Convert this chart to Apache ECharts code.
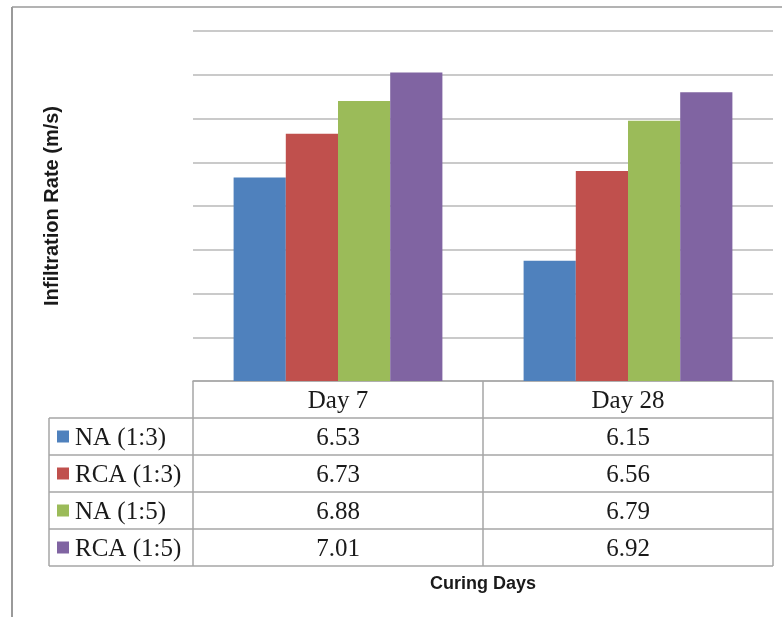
<!DOCTYPE html>
<html>
<head>
<meta charset="utf-8">
<script src="https://cdn.jsdelivr.net/npm/echarts@6/dist/echarts.min.js"></script>
<style>
  html, body { margin: 0; padding: 0; background: #ffffff; }
  #main { width: 782px; height: 617px; }
</style>
</head>
<body>
<div id="main"></div>
<script>
// Curing day groups shown along the x axis
const categories = ['Day 7', 'Day 28'];

// Mix series names
const seriesNames = ['NA (1:3)', 'RCA (1:3)', 'NA (1:5)', 'RCA (1:5)'];

// Infiltration rate per mix, Day 7 then Day 28
const naMix13 = [6.53, 6.15];
const rcaMix13 = [6.73, 6.56];
const naMix15 = [6.88, 6.79];
const rcaMix15 = [7.01, 6.92];

const seriesValues = [naMix13, rcaMix13, naMix15, rcaMix15];
const seriesColors = ['#4f81bd', '#c0504d', '#9bbb59', '#8064a2'];

const yTitle = 'Infiltration Rate (m/s)';
const xTitle = 'Curing Days';

// Layout of the plot and the data table under it
const plotLeft = 193, plotRight = 773, plotTop = 31, plotBottom = 381;
const tableLeft = 49;
const rowH = 37;
const textShift = 2;
const lineColor = '#a6a6a6';
const serifFont = '"Liberation Serif", "Times New Roman", serif';
const sansFont = '"Liberation Sans", Arial, sans-serif';
const tableFont = '25px ' + serifFont;

const chart = echarts.init(document.getElementById('main'), null, { renderer: 'canvas' });

chart.setOption({
  animation: false,
  backgroundColor: '#ffffff',
  grid: {
    left: plotLeft, right: 782 - plotRight, top: plotTop, bottom: 617 - plotBottom,
    containLabel: false
  },
  xAxis: {
    type: 'category',
    data: categories,
    axisLine: { show: true, lineStyle: { color: lineColor, width: 1.5 } },
    axisTick: { show: false },
    axisLabel: { show: false }
  },
  yAxis: {
    type: 'value',
    min: 5.6, max: 7.2, interval: 0.2,
    axisLine: { show: false },
    axisTick: { show: false },
    axisLabel: { show: false },
    splitLine: { show: true, lineStyle: { color: '#b8b8b8', width: 1.5 } },
    name: yTitle,
    nameLocation: 'middle',
    nameRotate: 90,
    nameGap: plotLeft - 62,
    nameTextStyle: { fontFamily: sansFont, fontWeight: 'bold', fontSize: 20, color: '#1a1a1a' }
  },
  series: seriesNames.map((name, i) => ({
    name: name,
    type: 'bar',
    data: seriesValues[i],
    barGap: '0%',
    barCategoryGap: '28%',
    itemStyle: { color: seriesColors[i] }
  }))
});

// Data table drawn beneath the plot, aligned to the category positions
function buildTable() {
  const g = [];
  const colX = categories.map(c => chart.convertToPixel({ xAxisIndex: 0 }, c));
  const headerTop = plotBottom;
  const bodyTop = headerTop + rowH;
  const bodyBottom = bodyTop + rowH * seriesNames.length;
  const midDivider = (colX[0] + colX[1]) / 2;

  const line = (x1, y1, x2, y2) => ({
    type: 'line', silent: true,
    shape: { x1, y1, x2, y2 },
    style: { stroke: lineColor, lineWidth: 1.5 }
  });

  // horizontal rules
  g.push(line(tableLeft, bodyTop, plotRight, bodyTop));
  for (let r = 1; r <= seriesNames.length; r++) {
    const y = bodyTop + rowH * r;
    g.push(line(tableLeft, y, plotRight, y));
  }
  // vertical rules
  g.push(line(tableLeft, bodyTop, tableLeft, bodyBottom));
  g.push(line(plotLeft, headerTop, plotLeft, bodyBottom));
  g.push(line(midDivider, headerTop, midDivider, bodyBottom));
  g.push(line(plotRight, headerTop, plotRight, bodyBottom));

  // header labels
  categories.forEach((c, j) => {
    g.push({
      type: 'text', silent: true,
      style: {
        x: colX[j], y: headerTop + rowH / 2 + textShift, text: c,
        align: 'center', verticalAlign: 'middle',
        font: tableFont, fill: '#1a1a1a'
      }
    });
  });

  // rows: legend key, series name, values
  seriesNames.forEach((name, i) => {
    const cy = bodyTop + rowH * i + rowH / 2;
    g.push({
      type: 'rect', silent: true,
      shape: { x: 57, y: cy - 6, width: 12, height: 12 },
      style: { fill: seriesColors[i] }
    });
    g.push({
      type: 'text', silent: true,
      style: {
        x: 75, y: cy + textShift, text: name,
        align: 'left', verticalAlign: 'middle',
        font: tableFont, fill: '#1a1a1a'
      }
    });
    seriesValues[i].forEach((v, j) => {
      g.push({
        type: 'text', silent: true,
        style: {
          x: colX[j], y: cy + textShift, text: v.toFixed(2),
          align: 'center', verticalAlign: 'middle',
          font: tableFont, fill: '#1a1a1a'
        }
      });
    });
  });

  // x axis title
  g.push({
    type: 'text', silent: true,
    style: {
      x: (plotLeft + plotRight) / 2, y: 584, text: xTitle,
      align: 'center', verticalAlign: 'middle',
      font: 'bold 18px ' + sansFont, fill: '#1a1a1a'
    }
  });

  // outer frame edges
  g.push({
    type: 'line', silent: true,
    shape: { x1: 12, y1: 7, x2: 782, y2: 7 },
    style: { stroke: '#9a9a9a', lineWidth: 1.5 }
  });
  g.push({
    type: 'line', silent: true,
    shape: { x1: 12, y1: 7, x2: 12, y2: 617 },
    style: { stroke: '#9a9a9a', lineWidth: 2 }
  });

  chart.setOption({ graphic: g });
}

buildTable();
</script>
</body>
</html>
